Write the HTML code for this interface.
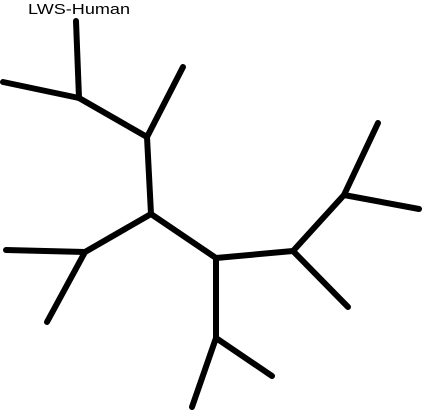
<!DOCTYPE html>
<html><head><meta charset="utf-8"><style>
html,body{margin:0;padding:0;background:#fff;width:422px;height:411px;overflow:hidden}
svg{display:block}
</style></head><body>
<svg id="tree" width="422" height="411" viewBox="0 0 422 411" xmlns="http://www.w3.org/2000/svg">
<text x="28" y="14" font-family="'Liberation Sans', sans-serif" font-size="14.5" textLength="102" lengthAdjust="spacingAndGlyphs" fill="#000">LWS-Human</text>
</svg>
<script>
const nodeNames = ["lwsHuman","n1","leafA","n2","leafB","n3","n4","leafC","leafD","n5","n6","leafE","leafF","n7","leafG","n8","leafH","leafI"];
const nodeXY = [[76,21],[79,98],[3,82],[147,137],[183,67],[151,214],[85,252],[6,250],[47,322],[216,258],[216,338],[192,407],[272,376],[293,251],[348,307],[344,195],[378,123],[419,209]];
const edges = [["n1","lwsHuman"],["n1","leafA"],["n1","n2"],["n2","leafB"],["n2","n3"],["n3","n4"],["n4","leafC"],["n4","leafD"],["n3","n5"],["n5","n6"],["n6","leafE"],["n6","leafF"],["n5","n7"],["n7","leafG"],["n7","n8"],["n8","leafH"],["n8","leafI"]];
const svg = document.getElementById('tree');
const pos = n => nodeXY[nodeNames.indexOf(n)];
edges.forEach(([a,b])=>{
  const p=pos(a), q=pos(b);
  const l=document.createElementNS('http://www.w3.org/2000/svg','line');
  l.setAttribute('x1',p[0]);l.setAttribute('y1',p[1]);l.setAttribute('x2',q[0]);l.setAttribute('y2',q[1]);
  l.setAttribute('stroke','#000');l.setAttribute('stroke-width','6');l.setAttribute('stroke-linecap','round');
  
  
  svg.appendChild(l);
});
</script>
</body></html>
